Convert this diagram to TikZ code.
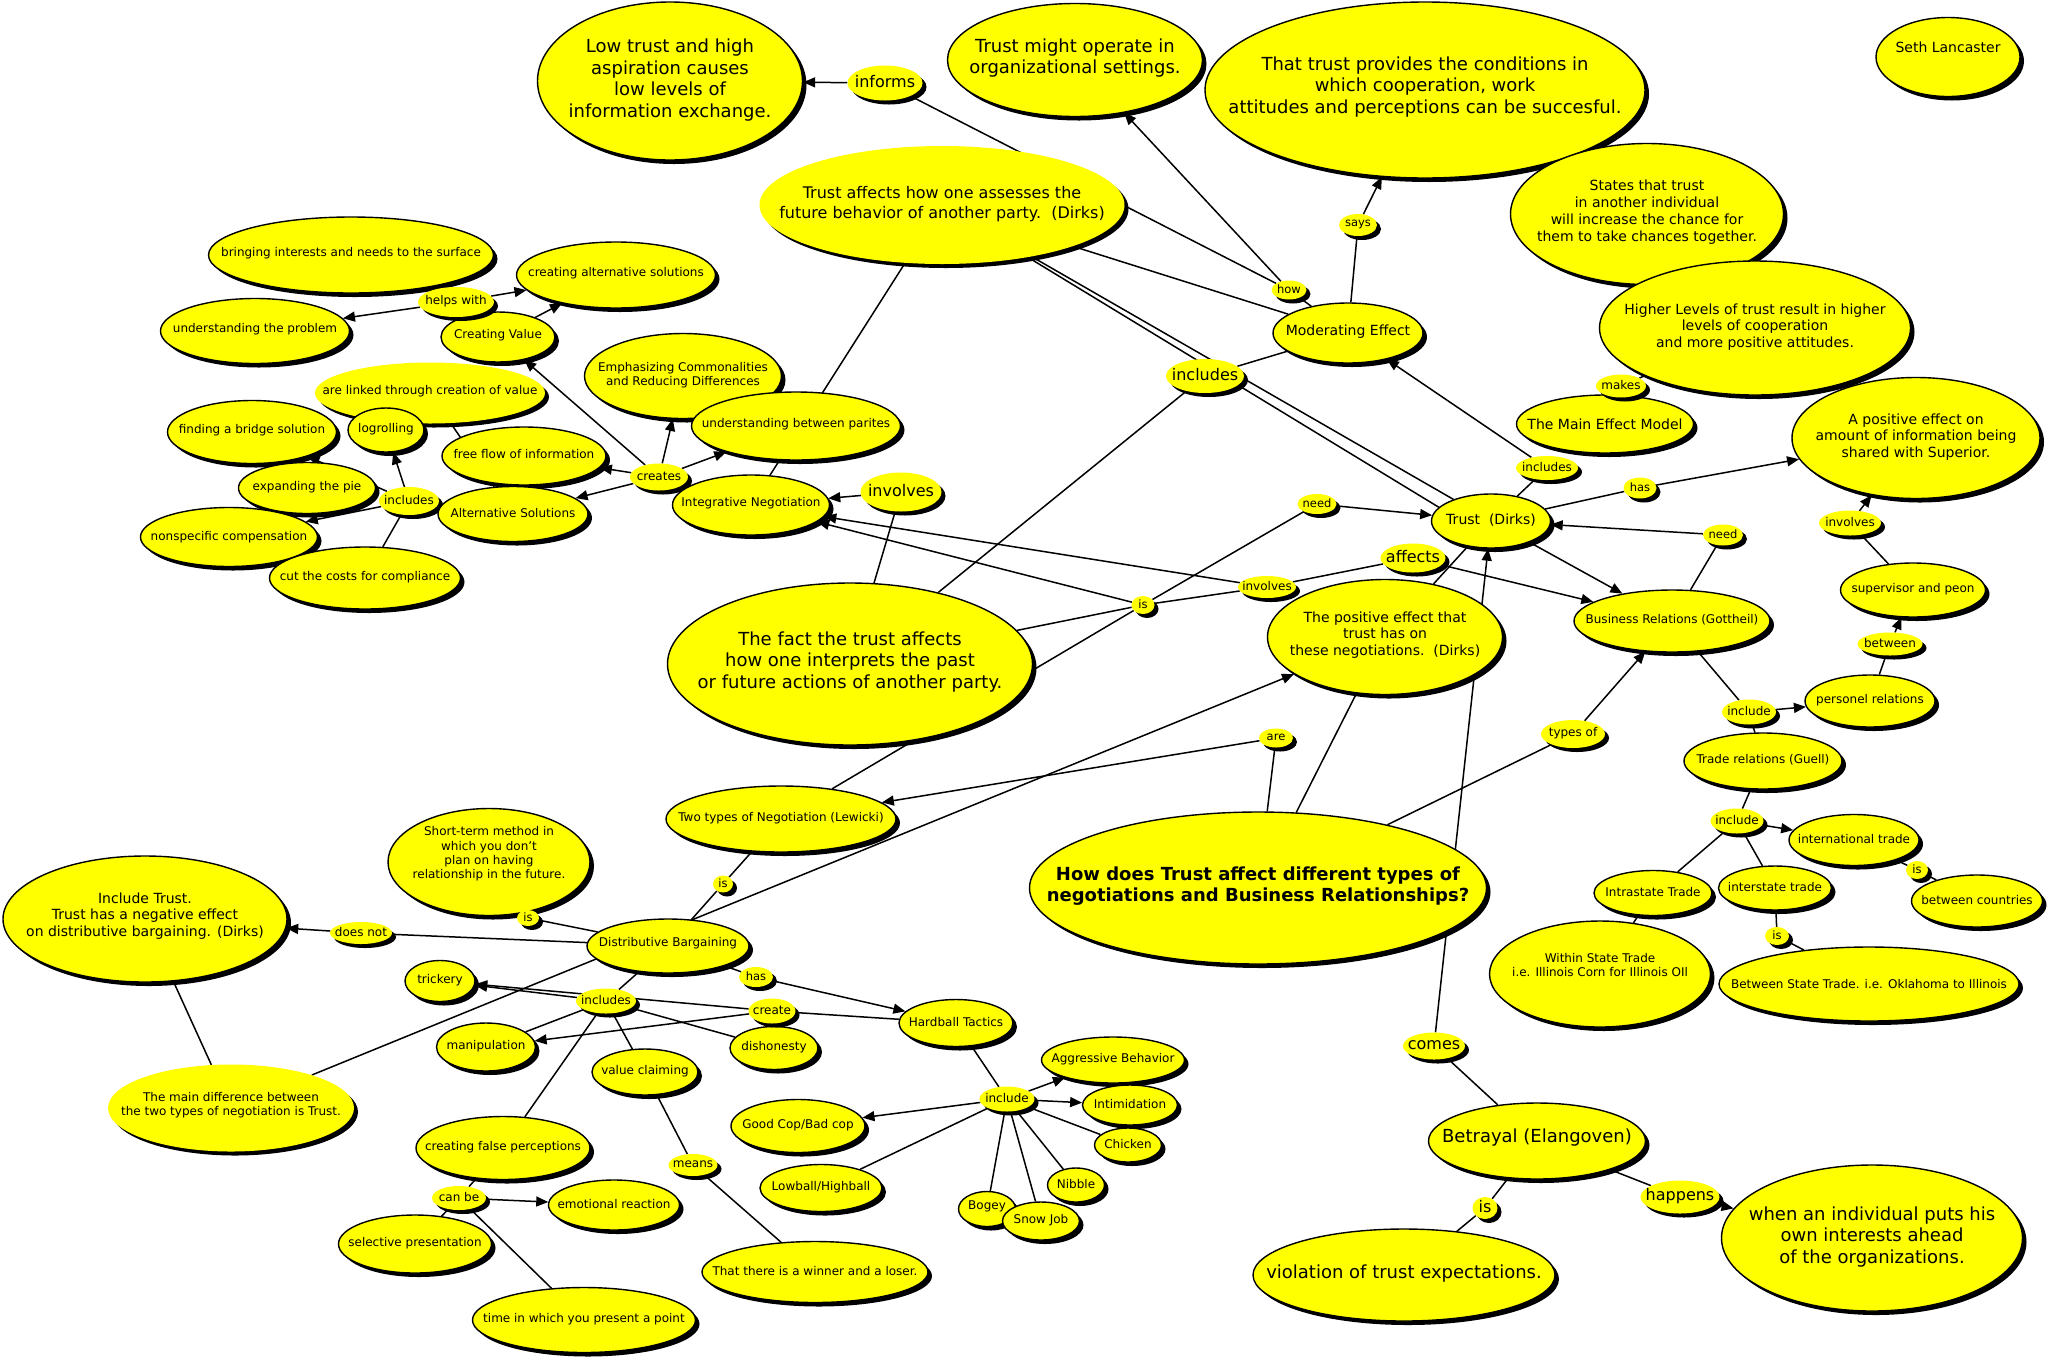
\documentclass[tikz,border=0pt]{standalone}
\usepackage{fontspec}
\setmainfont{DejaVu Sans}
\usetikzlibrary{shapes.geometric,shadows,arrows.meta,calc}
\pgfdeclarelayer{bg}
\pgfsetlayers{bg,main}
\definecolor{cy}{RGB}{255,255,0}
\tikzset{
 base/.style={ellipse, fill=cy, inner sep=0pt, drop shadow={shadow xshift=4pt, shadow yshift=-4pt, opacity=1, fill=black}},
 con/.style={base, draw=black, line width=1.4pt},
 lnk/.style={base},
 fA/.style={font=\fontsize{18}{21.6}\selectfont},
 fAb/.style={font=\fontsize{18}{21.6}\selectfont\bfseries},
 fB/.style={font=\fontsize{16}{19.2}\selectfont},
 fC/.style={font=\fontsize{14}{16.8}\selectfont},
 fD/.style={font=\fontsize{12}{14.4}\selectfont},
 fE/.style={font=\fontsize{11.5}{13.8}\selectfont},
 conn/.style={line width=1.5pt, black},
 arr/.style={conn, -{Triangle[length=12pt,width=10pt]}},
}
\newcommand\Enode[9]{%
 \node[#1,minimum width=#6pt,minimum height=#7pt] (#3) at (#4,#5) {};
 \node[#2,align=center,inner sep=0pt] at (#4,#8) {#9};}
\begin{document}
\begin{tikzpicture}[x=1pt,y=-1pt]
\useasboundingbox (0,0) rectangle (2048,1361);
% ---- top
\Enode{con}{fA}{A}{670}{81}{265}{158}{80}{Low trust and high\\aspiration causes\\low levels of\\information exchange.}
\Enode{lnk}{fB}{B}{885}{83}{75}{35}{82}{informs}
\Enode{con}{fA}{C}{1075}{60}{255}{113}{58}{Trust might operate in\\organizational settings.}
\Enode{con}{fA}{D}{1425}{90}{440}{176}{87}{That trust provides the conditions in\\which cooperation, work\\attitudes and perceptions can be succesful.}
\Enode{con}{fC}{E}{1948}{57}{144}{79}{47}{Seth Lancaster}
\Enode{lnk}{fB}{F}{942}{205}{365}{118}{204}{Trust affects how one assesses the\\future behavior of another party.~~(Dirks)}
\Enode{lnk}{fB}{G}{1205}{376}{78}{34}{375}{includes}
\Enode{lnk}{fE}{H}{1289}{290}{35}{19}{289}{how}
\Enode{lnk}{fE}{I}{1358}{225}{38}{22}{224}{says}
\Enode{con}{fC}{J}{1348}{333}{150}{60}{332}{Moderating Effect}
\Enode{con}{fC}{K}{1647}{214}{273}{141}{212}{States that trust\\in another individual\\will increase the chance for\\them to take chances together.}
\Enode{con}{fC}{L}{1755}{328}{311}{134}{327}{Higher Levels of trust result in higher\\levels of cooperation\\and more positive attitudes.}
\Enode{con}{fC}{N}{1605}{424}{177}{58}{424}{The Main Effect Model}
\Enode{lnk}{fD}{M}{1621}{386}{50}{23}{385}{makes}
\Enode{con}{fC}{O}{1916}{438}{248}{121}{437}{A positive effect on\\amount of information being\\shared with Superior.}
\Enode{lnk}{fD}{P}{1547}{468}{62}{24}{467}{includes}
\Enode{con}{fC}{Q}{1491}{521}{119}{54}{520}{Trust~~(Dirks)}
\Enode{lnk}{fE}{R}{1640}{488}{33}{21}{487}{has}
\Enode{lnk}{fE}{S}{1317}{504}{39}{20}{503}{need}
\Enode{lnk}{fE}{T}{1723}{535}{40}{21}{534}{need}
\Enode{con}{fC}{W}{1385}{637}{235}{115}{635}{The positive effect that\\trust has on\\these negotiations.~~(Dirks)}
\Enode{lnk}{fD}{V}{1267}{587}{58}{22}{586}{involves}
\Enode{lnk}{fB}{U}{1413}{558}{65}{29}{557}{affects}
\Enode{con}{fD}{X}{1672}{621}{196}{62}{620}{Business Relations (Gottheil)}
\Enode{lnk}{fD}{Y}{1850}{523}{62}{25}{522}{involves}
\Enode{con}{fD}{Z}{1913}{590}{145}{54}{589}{supervisor and peon}
\Enode{lnk}{fD}{AA}{1890}{644}{65}{23}{643}{between}
\Enode{con}{fD}{AB}{1870}{701}{130}{52}{700}{personel relations}
\Enode{lnk}{fD}{AC}{1749}{712}{54}{25}{711}{include}
\Enode{con}{fD}{AD}{1763}{761}{158}{56}{760}{Trade relations (Guell)}
\Enode{lnk}{fD}{AE}{1573}{734}{64}{28}{733}{types of}
\Enode{lnk}{fE}{AF}{1276}{738}{34}{19}{737}{are}
\Enode{lnk}{fD}{AG}{1737}{821}{53}{25}{820}{include}
\Enode{con}{fD}{AH}{1854}{840}{130}{51}{839}{international trade}
\Enode{lnk}{fE}{AI}{1917}{870}{22}{18}{869}{is}
\Enode{con}{fD}{AJ}{1977}{901}{131}{52}{900}{between countries}
\Enode{con}{fD}{AK}{1653}{893}{118}{45}{892}{Intrastate Trade}
\Enode{con}{fD}{AL}{1775}{888}{113}{44}{887}{interstate trade}
\Enode{lnk}{fE}{AM}{1777}{936}{24}{18}{935}{is}
\Enode{con}{fD}{AN}{1600}{974}{221}{106}{965}{Within State Trade\\i.e. Illinois Corn for Illinois OIl}
\Enode{con}{fD}{AO}{1869}{984}{300}{74}{984}{Between State Trade. i.e. Oklahoma to Illinois}
\Enode{con}{fAb}{AP}{1258}{888}{457}{152}{886}{How does Trust affect different types of\\negotiations and Business Relationships?}
\Enode{lnk}{fB}{AQ}{1434}{1046}{62}{27}{1045}{comes}
\Enode{con}{fA}{AR}{1537}{1141}{217}{76}{1138}{Betrayal (Elangoven)}
\Enode{lnk}{fB}{AS}{1485}{1208}{25}{22}{1207}{is}
\Enode{con}{fA}{AT}{1404}{1275}{302}{92}{1274}{violation of trust expectations.}
\Enode{lnk}{fB}{AU}{1680}{1197}{79}{33}{1196}{happens}
\Enode{con}{fA}{AV}{1872}{1238}{301}{146}{1237}{when an individual puts his\\own interests ahead\\of the organizations.}
% ---- hardball
\Enode{con}{fD}{AX}{774}{1048}{88}{43}{1047}{dishonesty}
\Enode{lnk}{fD}{AW}{772}{1011}{47}{25}{1010}{create}
\Enode{con}{fD}{AY}{956}{1023}{114}{47}{1022}{Hardball Tactics}
\Enode{con}{fD}{AZ}{1113}{1060}{143}{46}{1059}{Aggressive Behavior}
\Enode{con}{fD}{BB}{1130}{1105}{95}{40}{1104}{Intimidation}
\Enode{con}{fD}{BC}{1128}{1145}{67}{34}{1144}{Chicken}
\Enode{lnk}{fD}{BA}{1007}{1099}{55}{25}{1098}{include}
\Enode{con}{fD}{BD}{798}{1126}{134}{53}{1125}{Good Cop/Bad cop}
\Enode{con}{fD}{BE}{821}{1188}{122}{47}{1187}{Lowball/Highball}
\Enode{con}{fD}{BF}{1076}{1185}{57}{34}{1184}{Nibble}
\Enode{con}{fD}{BG}{987}{1209}{57}{35}{1206}{Bogey}
\Enode{con}{fD}{BH}{1041}{1221}{77}{38}{1220}{Snow Job}
\Enode{lnk}{fE}{HS}{756}{977}{34}{20}{976}{has}
% ---- distributive
\Enode{con}{fD}{BI}{781}{819}{230}{66}{818}{Two types of Negotiation (Lewicki)}
\Enode{lnk}{fE}{BJ}{723}{884}{20}{17}{883}{is}
\Enode{con}{fD}{BK}{489}{862}{202}{107}{854}{Short-term method in\\which you don't\\plan on having\\relationship in the future.}
\Enode{lnk}{fE}{BL}{528}{918}{22}{16}{917}{is}
\Enode{con}{fD}{BM}{668}{946}{162}{54}{943}{Distributive Bargaining}
\Enode{con}{fC}{BN}{145}{919}{284}{126}{916}{Include Trust.\\Trust has a negative effect\\on distributive bargaining. (Dirks)}
\Enode{lnk}{fD}{BO}{361}{933}{62}{22}{932}{does not}
\Enode{lnk}{fD}{BP}{231}{1108}{246}{87}{1105}{The main difference between\\the two types of negotiation is Trust.}
\Enode{con}{fD}{BQ}{440}{981}{70}{41}{980}{trickery}
\Enode{lnk}{fD}{BR}{606}{1001}{60}{25}{1000}{includes}
\Enode{con}{fD}{BS}{486}{1047}{99}{48}{1046}{manipulation}
\Enode{con}{fD}{BT}{645}{1072}{106}{46}{1071}{value claiming}
\Enode{con}{fD}{BU}{503}{1148}{174}{63}{1147}{creating false perceptions}
\Enode{lnk}{fD}{BV}{693}{1165}{49}{22}{1164}{means}
\Enode{lnk}{fD}{BW}{459}{1198}{54}{24}{1197}{can be}
\Enode{con}{fD}{BX}{614}{1205}{131}{50}{1204}{emotional reaction}
\Enode{con}{fD}{BY}{415}{1244}{153}{58}{1243}{selective presentation}
\Enode{con}{fD}{BZ}{815}{1272}{226}{61}{1271}{That there is a winner and a loser.}
\Enode{con}{fD}{CA}{584}{1320}{223}{65}{1319}{time in which you present a point}
% ---- integrative
\Enode{con}{fD}{CB}{351}{255}{285}{76}{253}{bringing interests and needs to the surface}
\Enode{con}{fD}{CC}{616}{275}{199}{66}{273}{creating alternative solutions}
\Enode{con}{fD}{CF}{498}{337}{114}{50}{335}{Creating Value}
\Enode{lnk}{fD}{CD}{456}{302}{76}{30}{301}{helps with}
\Enode{con}{fD}{CE}{255}{331}{189}{65}{329}{understanding the problem}
\Enode{lnk}{fD}{CH}{430}{393}{230}{61}{391}{are linked through creation of value}
\Enode{con}{fD}{CI}{386}{430}{76}{44}{429}{logrolling}
\Enode{con}{fD}{CG}{683}{376}{197}{85}{375}{Emphasizing Commonalities\\and Reducing Differences}
\Enode{con}{fD}{CK}{796}{426}{209}{68}{424}{understanding between parites}
\Enode{con}{fD}{CJ}{252}{432}{169}{63}{430}{finding a bridge solution}
\Enode{con}{fD}{CL}{524}{456}{164}{58}{454}{free flow of information}
\Enode{lnk}{fD}{CM}{659}{477}{58}{27}{476}{creates}
\Enode{con}{fD}{CN}{307}{488}{137}{51}{487}{expanding the pie}
\Enode{con}{fD}{CS}{229}{537}{177}{59}{537}{nonspecific compensation}
\Enode{con}{fD}{CT}{365}{578}{191}{62}{577}{cut the costs for compliance}
\Enode{lnk}{fD}{CO}{409}{501}{60}{28}{500}{includes}
\Enode{con}{fD}{CP}{513}{514}{150}{55}{513}{Alternative Solutions}
\Enode{con}{fD}{CQ}{751}{505}{157}{60}{503}{Integrative Negotiation}
\Enode{lnk}{fB}{CR}{901}{492}{81}{39}{491}{involves}
\Enode{con}{fA}{CU}{850}{664}{365}{162}{662}{The fact the trust affects\\how one interprets the past\\or future actions of another party.}
\Enode{lnk}{fE}{CV}{1143}{605}{23}{18}{604}{is}
% ---- connectors
\begin{pgfonlayer}{bg}
\fill[white] (0,0) rectangle (2048,1361);
\draw[arr] (B) -- (A);
\draw[conn] (B) -- (H);
\draw[arr] (H) -- (C);
\draw[conn] (H) -- (J);
\draw[conn] (F) -- (J);
\draw[conn] (J) -- (I);
\draw[arr] (I) -- (D);
\draw[conn] (G) -- (J);
\draw[conn] (G) -- (CU);
\draw[conn] (F) -- (Q);
\draw[conn] (F) -- ($(Q.center)+(0,18)$);
\draw[conn] (Q) -- (P);
\draw[arr] (P) -- (J);
\draw[conn] (N) -- (M);
\draw[conn] (M) -- (L);
\draw[conn] (Q) -- (R);
\draw[arr] (R) -- (O);
\draw[arr] (S) -- (Q);
\draw[arr] (T) -- (Q);
\draw[conn] (X) -- (T);
\draw[arr] (Q) -- (X);
\draw[arr] (U) -- (X);
\draw[conn] (V) -- (U);
\draw[arr] (V) -- (CQ);
\draw[arr] (CV) -- (CQ);
\draw[conn] (CU) -- (CV);
\draw[conn] (CV) -- (V);
\draw[conn] (BI) -- (CV);
\draw[conn] (CV) -- (S);
\draw[arr] (AQ) -- (Q);
\draw[conn] (Q) -- (W);
\draw[conn] (W) -- (AP);
\draw[conn] (AP) -- (AF);
\draw[arr] (AF) -- (BI);
\draw[conn] (AP) -- (AE);
\draw[arr] (AE) -- (X);
\draw[arr] (BP) -- (W);
\draw[conn] (BI) -- (BJ);
\draw[conn] (BJ) -- (BM);
\draw[conn] (BK) -- (BL);
\draw[conn] (BL) -- (BM);
\draw[conn] (BM) -- (BO);
\draw[arr] (BO) -- (BN);
\draw[conn] (BN) -- (BP);
\draw[conn] (BM) -- (HS);
\draw[arr] (HS) -- (AY);
\draw[conn] (BM) -- (BR);
\draw[arr] (BR) -- (BQ);
\draw[conn] (BR) -- (BS);
\draw[conn] (BR) -- (AX);
\draw[conn] (BR) -- (BT);
\draw[conn] (BR) -- (BU);
\draw[conn] (AY) -- (AW);
\draw[arr] (AW) -- (BQ);
\draw[arr] (AW) -- (BS);
\draw[conn] (BT) -- (BV);
\draw[conn] (BV) -- (BZ);
\draw[conn] (BU) -- (BW);
\draw[arr] (BW) -- (BX);
\draw[conn] (BW) -- (BY);
\draw[conn] (BW) -- (CA);
\draw[conn] (AY) -- (BA);
\draw[arr] (BA) -- (BD);
\draw[arr] (BA) -- (AZ);
\draw[arr] (BA) -- (BB);
\draw[conn] (BA) -- (BC);
\draw[conn] (BA) -- (BE);
\draw[conn] (BA) -- (BG);
\draw[conn] (BA) -- (BH);
\draw[conn] (BA) -- (BF);
\draw[conn] (CF) -- (CD);
\draw[arr] (CD) -- (CE);
\draw[arr] (CD) -- (CC);
\draw[arr] (CF) -- (CC);
\draw[conn] (CQ) -- (CM);
\draw[arr] (CM) -- (CF);
\draw[arr] (CM) -- (CG);
\draw[arr] (CM) -- (CK);
\draw[arr] (CM) -- (CL);
\draw[arr] (CM) -- (CP);
\draw[conn] (CQ) -- (F);
\draw[conn] (CP) -- (CO);
\draw[arr] (CO) -- (CI);
\draw[arr] (CO) -- (CJ);
\draw[arr] (CO) -- (CS);
\draw[conn] (CO) -- (CT);
\draw[conn] (CH) -- (CP);
\draw[arr] (CR) -- (CQ);
\draw[conn] (CR) -- (CU);
\draw[conn] (X) -- (AC);
\draw[arr] (AC) -- (AB);
\draw[conn] (AB) -- (AA);
\draw[arr] (AA) -- (Z);
\draw[conn] (Z) -- (Y);
\draw[arr] (Y) -- (O);
\draw[conn] (AC) -- (AD);
\draw[conn] (AD) -- (AG);
\draw[arr] (AG) -- (AH);
\draw[conn] (AG) -- (AK);
\draw[conn] (AG) -- (AL);
\draw[conn] (AH) -- (AI);
\draw[conn] (AI) -- (AJ);
\draw[conn] (AL) -- (AM);
\draw[conn] (AM) -- (AO);
\draw[conn] (AK) -- (AN);
\draw[conn] (AQ) -- (AR);
\draw[conn] (AR) -- (AS);
\draw[conn] (AS) -- (AT);
\draw[conn] (AR) -- (AU);
\draw[arr] (AU) -- (AV);
\end{pgfonlayer}
\end{tikzpicture}
\end{document}
